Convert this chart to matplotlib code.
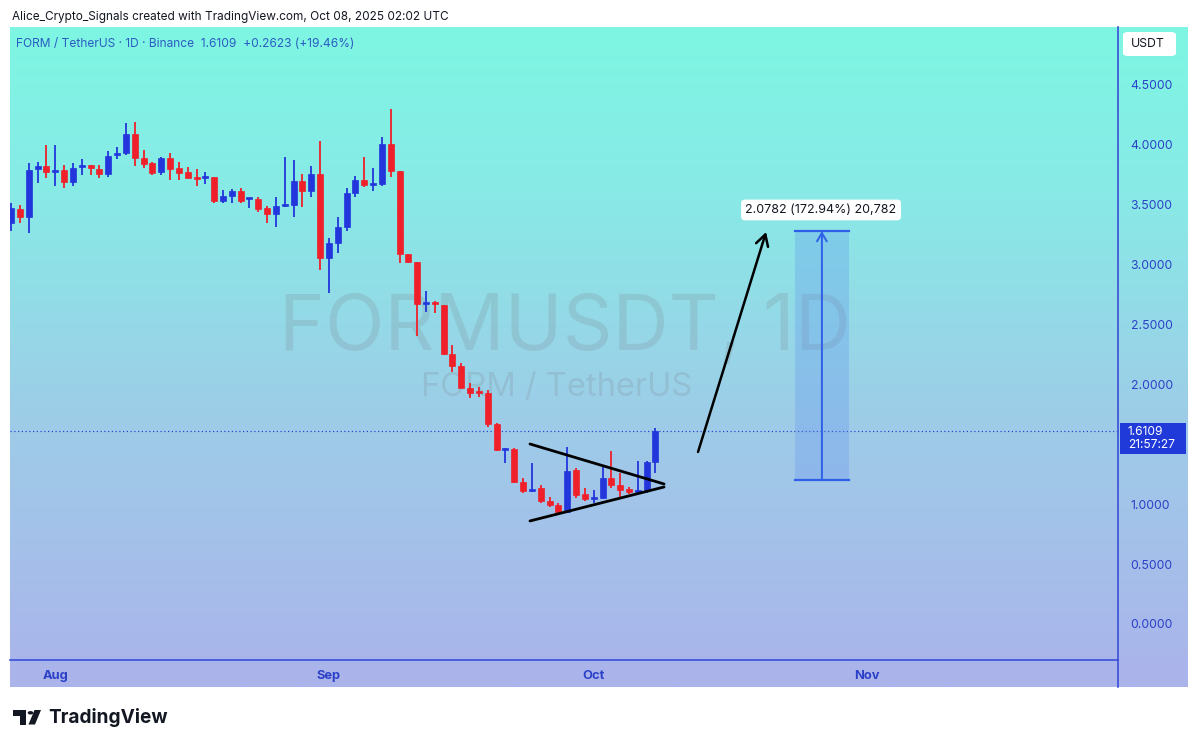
import matplotlib
matplotlib.use("Agg")
import matplotlib.pyplot as plt
import matplotlib.dates as mdates
from matplotlib.patches import Rectangle, FancyBboxPatch, Polygon, Circle
from matplotlib.lines import Line2D
import numpy as np
import pandas as pd

plt.rcParams['font.family'] = ['Inter', 'DejaVu Sans']

# ---------------- data ----------------
dates = pd.date_range("2025-07-27", "2025-10-08", freq="D")
opens = [3.35, 3.46, 3.40, 3.80, 3.82, 3.77, 3.79, 3.69, 3.815, 3.82,
         3.80, 3.76, 3.915, 3.93, 4.09, 3.89, 3.85, 3.77, 3.89, 3.81,
         3.77, 3.723, 3.723, 3.73, 3.53, 3.57, 3.61, 3.548, 3.55, 3.47,
         3.42, 3.49, 3.50, 3.70, 3.61, 3.76, 3.055, 3.18, 3.31, 3.60,
         3.71, 3.664, 3.67, 4.007, 3.78, 3.09, 3.02, 2.671, 2.688, 2.66,
         2.254, 2.154, 1.97, 1.937, 1.928, 1.669, 1.452, 1.461, 1.185, 1.11,
         1.135, 1.027, 0.993, 0.935, 1.285, 1.085, 1.043, 1.052, 1.219, 1.16,
         1.127, 1.102, 1.119, 1.3486]
highs = [3.51, 3.50, 3.85, 3.86, 4.00, 4.00, 3.83, 3.85, 3.88, 3.83,
         3.83, 3.95, 3.98, 4.18, 4.19, 3.96, 3.86, 3.90, 3.93, 3.86,
         3.815, 3.80, 3.77, 3.735, 3.62, 3.63, 3.64, 3.556, 3.56, 3.49,
         3.56, 3.90, 3.87, 3.76, 3.82, 4.03, 3.22, 3.40, 3.64, 3.74,
         3.90, 3.81, 4.065, 4.30, 3.785, 3.09, 3.025, 2.78, 2.70, 2.665,
         2.33, 2.18, 2.01, 1.978, 1.953, 1.678, 1.469, 1.465, 1.219, 1.344,
         1.16, 1.06, 1.01, 1.477, 1.302, 1.135, 1.119, 1.311, 1.444, 1.26,
         1.144, 1.361, 1.361, 1.636]
lows = [3.28, 3.35, 3.26, 3.68, 3.72, 3.66, 3.64, 3.66, 3.75, 3.75,
        3.72, 3.73, 3.88, 3.915, 3.82, 3.81, 3.75, 3.75, 3.71, 3.71,
        3.72, 3.66, 3.67, 3.51, 3.51, 3.51, 3.51, 3.47, 3.44, 3.35,
        3.31, 3.48, 3.40, 3.48, 3.56, 2.955, 2.76, 3.10, 3.28, 3.565,
        3.65, 3.61, 3.656, 3.73, 3.01, 3.01, 2.40, 2.60, 2.596, 2.245,
        2.10, 1.97, 1.886, 1.895, 1.644, 1.444, 1.344, 1.18, 1.093, 1.105,
        1.01, 0.977, 0.927, 0.927, 1.052, 1.027, 1.01, 1.045, 1.135, 1.06,
        1.085, 1.10, 1.093, 1.26]
closes = [3.47, 3.40, 3.79, 3.82, 3.77, 3.79, 3.69, 3.81, 3.823, 3.81,
          3.76, 3.91, 3.93, 4.09, 3.89, 3.84, 3.765, 3.89, 3.80, 3.765,
          3.72, 3.715, 3.731, 3.53, 3.57, 3.61, 3.53, 3.556, 3.46, 3.42,
          3.49, 3.506, 3.70, 3.61, 3.76, 3.055, 3.18, 3.31, 3.60, 3.71,
          3.665, 3.673, 4.007, 3.78, 3.09, 3.02, 2.67, 2.688, 2.671, 2.254,
          2.154, 1.97, 1.928, 1.928, 1.669, 1.452, 1.461, 1.185, 1.11, 1.127,
          1.027, 0.993, 0.935, 1.277, 1.077, 1.043, 1.052, 1.219, 1.16, 1.119,
          1.102, 1.119, 1.3486, 1.6109]

price_ticks = [0.0, 0.5, 1.0, 1.5, 2.0, 2.5, 3.0, 3.5, 4.0, 4.5]
month_ticks = ["2025-08-01", "2025-09-01", "2025-10-01", "2025-11-01"]
month_labels = ["Aug", "Sep", "Oct", "Nov"]

last_price = 1.6109
countdown = "21:57:27"
title_text = "FORM / TetherUS · 1D · Binance  1.6109  +0.2623 (+19.46%)"
credit_text = "Alice_Crypto_Signals created with TradingView.com, Oct 08, 2025 02:02 UTC"

# drawings (date, price)
tri_upper = [("2025-09-23 18:45", 1.5025), ("2025-10-08 23:15", 1.1686)]
tri_lower = [("2025-09-23 18:45", 0.860), ("2025-10-08 23:15", 1.1436)]
arrow_pts = [("2025-10-12 19:40", 1.436), ("2025-10-20 12:45", 3.272)]
measure_start = "2025-10-23 19:00"
measure_end = "2025-10-29 22:00"
measure_low = 1.2017
measure_high = 3.2799
measure_label = "2.0782 (172.94%) 20,782"

# ---------------- layout ----------------
W, H = 1200, 747
fig = plt.figure(figsize=(12, 7.47), dpi=100)
fig.patch.set_facecolor("white")


def fb(x0, y0, x1, y1):
    return [x0 / W, 1 - y1 / H, (x1 - x0) / W, (y1 - y0) / H]


def fx(x):
    return x / W


def fy(y):
    return 1 - y / H


# gradient background
bg = fig.add_axes(fb(10, 27, 1188, 687), zorder=0)
stops_y = np.array([0.0, 0.25, 0.6, 1.0])
stops_c = np.array([[0x7e, 0xf6, 0xe3], [0x88, 0xea, 0xe6],
                    [0x9e, 0xcc, 0xe8], [0xab, 0xb3, 0xeb]]) / 255.0
t = np.linspace(0, 1, 400)
grad = np.stack([np.interp(t, stops_y, stops_c[:, k]) for k in range(3)], axis=1)
bg.imshow(grad[:, None, :], aspect="auto", extent=[0, 1, 0, 1], origin="upper")
bg.set_axis_off()

# watermark (behind candles)
bg.text(fx(565), fy(330), "FORMUSDT, 1D", transform=fig.transFigure,
        fontsize=56, color="#787b86", alpha=0.2, ha="center", va="center")
bg.text(fx(557), fy(388), "FORM / TetherUS", transform=fig.transFigure,
        fontsize=23.5, color="#787b86", alpha=0.2, ha="center", va="center")

ax = fig.add_axes(fb(10, 27, 1118, 660), zorder=1)
ax.set_facecolor("none")

oct1 = mdates.date2num(pd.Timestamp("2025-10-01"))
ax.set_xlim(oct1 - 66.13, oct1 + 59.40)
ax.set_ylim(-0.3005, 4.983)

BLUE = "#2236dc"
RED = "#f0202a"
xs = mdates.date2num(dates)
for x, o, h, l, c in zip(xs, opens, highs, lows, closes):
    col = BLUE if c >= o else RED
    ax.vlines(x, l, h, color=col, lw=1.3, zorder=3)
    bot = min(o, c)
    ht = max(abs(c - o), 0.018)
    ax.bar(x, ht, bottom=bot, width=0.68, color=col, edgecolor=col, lw=0.5, zorder=4)

# last price line
ax.axhline(last_price, color="#2a44d0", ls=(0, (1, 2)), lw=0.9, zorder=2)

# triangle
for seg in (tri_upper, tri_lower):
    xx = [mdates.date2num(pd.Timestamp(d)) for d, _ in seg]
    yy = [p for _, p in seg]
    ax.plot(xx, yy, color="black", lw=2.0, zorder=5, solid_capstyle="round")

# arrow
a0 = (mdates.date2num(pd.Timestamp(arrow_pts[0][0])), arrow_pts[0][1])
a1 = (mdates.date2num(pd.Timestamp(arrow_pts[1][0])), arrow_pts[1][1])
ax.annotate("", xy=a1, xytext=a0,
            arrowprops=dict(arrowstyle="->,head_length=0.8,head_width=0.45",
                            color="black", lw=1.8, shrinkA=0, shrinkB=0), zorder=5)

# measure box
m0 = mdates.date2num(pd.Timestamp(measure_start))
m1 = mdates.date2num(pd.Timestamp(measure_end))
ax.add_patch(Rectangle((m0, measure_low), m1 - m0, measure_high - measure_low,
                       facecolor="#5d8ff0", alpha=0.28, edgecolor="none", zorder=2))
ax.plot([m0, m1], [measure_low, measure_low], color="#2f5fe8", lw=1.6, zorder=3)
ax.plot([m0, m1], [measure_high, measure_high], color="#2f5fe8", lw=1.6, zorder=3)
mc = (m0 + m1) / 2
ax.annotate("", xy=(mc, measure_high), xytext=(mc, measure_low),
            arrowprops=dict(arrowstyle="->,head_length=0.6,head_width=0.35",
                            color="#2f5fe8", lw=1.4, shrinkA=0, shrinkB=0), zorder=3)
ax.text(mc - 0.1, 3.456, measure_label, ha="center", va="center", fontsize=9,
        color="#131722", zorder=6,
        bbox=dict(boxstyle="round,pad=0.35,rounding_size=0.3", fc="white", ec="none"))

# axes styling
for s in ax.spines.values():
    s.set_visible(False)
ax.yaxis.tick_right()
# tick labels that would sit under the last-price label are hidden (as on TradingView)
shown_ticks = [v for v in price_ticks if abs(v - last_price) > 0.2]
ax.set_yticks(shown_ticks)
ax.set_yticklabels([f"{v:.4f}" for v in shown_ticks])
ax.tick_params(axis="y", length=0, pad=9, labelcolor="#2c40c8", labelsize=8.8)
ax.set_xticks([mdates.date2num(pd.Timestamp(d)) for d in month_ticks])
ax.set_xticklabels(month_labels, fontweight="bold")
ax.tick_params(axis="x", length=0, pad=7, labelcolor="#2c40c8", labelsize=9.3)

# axis lines
fig.add_artist(Line2D([fx(1118), fx(1118)], [fy(27), fy(687)], color="#3a4fd6", lw=1.2,
                      transform=fig.transFigure, zorder=5))
fig.add_artist(Line2D([fx(10), fx(1118)], [fy(660), fy(660)], color="#3a4fd6", lw=1.2,
                      transform=fig.transFigure, zorder=5))

# texts
fig.text(fx(12), fy(17), credit_text, fontsize=8.5, color="#131722", va="center", ha="left")
fig.text(fx(16), fy(44), title_text, fontsize=8.6, color="#2b5cc0", va="center", ha="left")

# USDT box
fig.add_artist(FancyBboxPatch((fx(1123), fy(56)), fx(53), 24 / H,
                              boxstyle="round,pad=0,rounding_size=0.004",
                              fc="white", ec="none", transform=fig.transFigure, zorder=6))
fig.text(fx(1148), fy(44), "USDT", fontsize=8.8, color="#131722", ha="center", va="center", zorder=7)

# last price label (single two-line text)
fig.add_artist(Rectangle((fx(1120), fy(454)), fx(66), 31 / H, fc="#1f3ad8", ec="none",
                         transform=fig.transFigure, zorder=6))
fig.text(fx(1128), fy(438.5), f"{last_price:.4f}\n{countdown}", fontsize=8.6, color="white",
         ha="left", va="center", linespacing=1.15, zorder=7)

# TradingView logo
ic = "#131722"
fig.add_artist(Polygon([(fx(12.5), fy(710)), (fx(26), fy(710)), (fx(26), fy(724.5)),
                        (fx(19.5), fy(724.5)), (fx(19.5), fy(715.5)), (fx(12.5), fy(715.5))],
                       closed=True, fc=ic, ec="none", transform=fig.transFigure))
fig.add_artist(Circle((fx(30.5), fy(712.8)), 2.8 / W, fc=ic, ec="none",
                      transform=fig.transFigure))
fig.add_artist(Polygon([(fx(34.5), fy(710)), (fx(41), fy(710)), (fx(35), fy(724.5)),
                        (fx(28.5), fy(724.5))],
                       closed=True, fc=ic, ec="none", transform=fig.transFigure))
fig.text(fx(48), fy(717.5), "TradingView", fontsize=13.7, fontweight="bold", color=ic,
         ha="left", va="center")

fig.savefig("out.png", dpi=100)
